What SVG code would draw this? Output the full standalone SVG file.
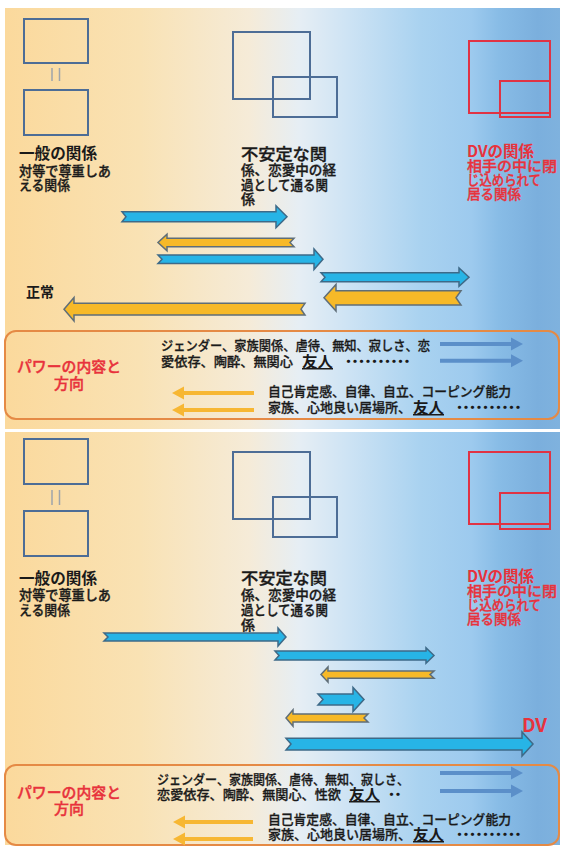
<svg xmlns="http://www.w3.org/2000/svg" width="562" height="849" viewBox="0 0 562 849">
<defs>
<linearGradient id="bg" gradientUnits="userSpaceOnUse" x1="5" y1="0" x2="560" y2="0">
<stop offset="0" stop-color="#fbd99c"/>
<stop offset="0.243" stop-color="#f9e2b4"/>
<stop offset="0.44" stop-color="#f5ebd8"/>
<stop offset="0.53" stop-color="#e6eef4"/>
<stop offset="0.62" stop-color="#cde3f4"/>
<stop offset="0.75" stop-color="#a9d2f0"/>
<stop offset="0.84" stop-color="#9dcaee"/>
<stop offset="0.89" stop-color="#88bce6"/>
<stop offset="0.96" stop-color="#7bafdd"/>
<stop offset="1" stop-color="#7fb2de"/>
</linearGradient>
<style>
text{font-family:"Noto Sans CJK JP","Noto Sans CJK SC",sans-serif;fill:#1a1a1a;font-weight:500}
.h{font-size:15.5px;font-weight:bold}
.b{font-size:14px;stroke:#1a1a1a;stroke-width:0.35}
.s{font-size:13.5px;stroke:#1a1a1a;stroke-width:0.35}
.p{font-size:13px;stroke:#1a1a1a;stroke-width:0.3}
.rh{font-size:15.5px;font-weight:bold;fill:#e8323c}
.rb{font-size:14px;fill:#e8323c;stroke:#e8323c;stroke-width:0.35}
.pw{font-size:15px;fill:#e8323c;stroke:#e8323c;stroke-width:0.4}
.fr{font-size:15px;font-weight:bold;text-decoration:underline}
.dot{font-size:13px;font-weight:bold;letter-spacing:-6.5px}
.box{fill:none;stroke:#4d6d96;stroke-width:2}
.rbox{fill:none;stroke:#e03344;stroke-width:2}
.eq{stroke:#9ea4ab;stroke-width:1.5}
.pbox{fill:none;stroke:#e58a45;stroke-width:2}
.ba{fill:#27b4e6;stroke:#3e6a88;stroke-width:1.5;stroke-linejoin:miter}
.oa{fill:#f7b928;stroke:#5f6e78;stroke-width:1.5;stroke-linejoin:miter}
.bl{fill:#5b8fc9}
.ol{fill:#f7b733}
</style>
</defs>

<rect x="5" y="8" width="555" height="421" fill="url(#bg)"/>
<rect x="5" y="432" width="555" height="413" fill="url(#bg)"/>

<!-- TOP PANEL -->
<g id="top-normal">
<rect class="box" x="24" y="19" width="64" height="44"/>
<line class="eq" x1="52" y1="68" x2="52" y2="81"/>
<line class="eq" x1="59.5" y1="68" x2="59.5" y2="81"/>
<rect class="box" x="24" y="90" width="64" height="45"/>
<text class="h" x="19" y="159" textLength="78" lengthAdjust="spacingAndGlyphs">一般の関係</text>
<text class="s" x="19" y="176" textLength="92" lengthAdjust="spacingAndGlyphs">対等で尊重しあ</text>
<text class="s" x="19" y="190" textLength="51" lengthAdjust="spacingAndGlyphs">える関係</text>
</g>
<g id="top-unstable">
<rect class="box" x="233" y="32" width="77" height="67"/>
<rect class="box" x="273" y="77" width="64" height="40"/>
<text class="b" x="241" y="160" textLength="86" lengthAdjust="spacingAndGlyphs" style="font-size:16px">不安定な関</text>
<text class="b" x="241" y="175" textLength="95" lengthAdjust="spacingAndGlyphs">係、恋愛中の経</text>
<text class="b" x="241" y="190" textLength="87" lengthAdjust="spacingAndGlyphs">過として通る関</text>
<text class="b" x="241" y="204">係</text>
</g>
<g id="top-dv">
<rect class="rbox" x="469" y="41" width="81" height="72"/>
<rect class="rbox" x="500" y="81" width="50" height="36"/>
<text class="rh" x="467" y="157" textLength="67" lengthAdjust="spacingAndGlyphs">DVの関係</text>
<text class="rb" x="467" y="171" textLength="90" lengthAdjust="spacingAndGlyphs">相手の中に閉</text>
<text class="rb" x="467" y="185" textLength="74" lengthAdjust="spacingAndGlyphs">じ込められて</text>
<text class="rb" x="467" y="199" textLength="54" lengthAdjust="spacingAndGlyphs">居る関係</text>
</g>
<g id="top-normal-label">
<text class="h" x="26" y="297" style="font-size:14px">正常</text>
</g>

<g id="top-arrows">
<polygon class="ba" points="122,211.7 276,211.7 276,205.7 287,216.7 276,227.7 276,221.7 122,221.7 126,216.7"/>
<polygon class="oa" points="294,238.3 167,238.3 167,234.3 158,242.5 167,250.7 167,246.7 294,246.7 290,242.5"/>
<polygon class="ba" points="158,255 314,255 314,249 323,259.2 314,269.4 314,263.4 158,263.4 162,259.2"/>
<polygon class="ba" points="321,272.7 459,272.7 459,268 469,277.2 459,286.4 459,281.7 321,281.7 325,277.2"/>
<polygon class="oa" points="461,290.7 336,290.7 336,284.5 324,297.8 336,311 336,305 461,305 456,297.8"/>
<polygon class="oa" points="305,303.3 74,303.3 74,297.5 64,309.2 74,321 74,315 305,315 301,309.2"/>
</g>

<g id="top-power">
<rect class="pbox" x="5" y="331" width="554" height="88" rx="11" ry="11"/>
<text class="pw" x="17" y="372" textLength="104" lengthAdjust="spacingAndGlyphs">パワーの内容と</text>
<text class="pw" x="69" y="389" text-anchor="middle">方向</text>
<text class="p" x="161" y="350" textLength="269" lengthAdjust="spacingAndGlyphs">ジェンダー、家族関係、虐待、無知、寂しさ、恋</text>
<text class="p" x="161" y="366" textLength="132" lengthAdjust="spacingAndGlyphs">愛依存、陶酔、無関心</text>
<text class="fr" x="302" y="367" textLength="31" lengthAdjust="spacingAndGlyphs">友人</text>
<text class="dot" x="342" y="366">・・・・・・・・・・</text>
<text class="p" x="268" y="396" textLength="243" lengthAdjust="spacingAndGlyphs">自己肯定感、自律、自立、コーピング能力</text>
<text class="p" x="268" y="412" textLength="143" lengthAdjust="spacingAndGlyphs">家族、心地良い居場所、</text>
<text class="fr" x="413" y="413" textLength="31" lengthAdjust="spacingAndGlyphs">友人</text>
<text class="dot" x="453" y="412">・・・・・・・・・・</text>
</g>
<g id="top-power-arrows">
<polygon class="bl" points="440,342 511,342 511,337.5 523,344 511,350.5 511,346 440,346"/>
<polygon class="bl" points="440,358.7 511,358.7 511,354.2 523,360.7 511,367.2 511,362.7 440,362.7"/>
<polygon class="ol" points="254,391 184,391 184,386.5 172,393 184,399.5 184,395 254,395"/>
<polygon class="ol" points="254,408 184,408 184,403.5 172,410 184,416.5 184,412 254,412"/>
</g>

<!-- BOTTOM PANEL -->
<g id="bottom-normal">
<rect class="box" x="24" y="439" width="64" height="45"/>
<line class="eq" x1="52" y1="490" x2="52" y2="505"/>
<line class="eq" x1="59.5" y1="490" x2="59.5" y2="505"/>
<rect class="box" x="24" y="511" width="64" height="45"/>
<text class="h" x="19" y="584" textLength="78" lengthAdjust="spacingAndGlyphs">一般の関係</text>
<text class="s" x="19" y="600" textLength="92" lengthAdjust="spacingAndGlyphs">対等で尊重しあ</text>
<text class="s" x="19" y="615" textLength="51" lengthAdjust="spacingAndGlyphs">える関係</text>
</g>
<g id="bottom-unstable">
<rect class="box" x="233" y="452" width="77" height="67"/>
<rect class="box" x="273" y="497" width="64" height="40"/>
<text class="b" x="241" y="584" textLength="86" lengthAdjust="spacingAndGlyphs" style="font-size:16px">不安定な関</text>
<text class="b" x="241" y="600" textLength="95" lengthAdjust="spacingAndGlyphs">係、恋愛中の経</text>
<text class="b" x="241" y="615" textLength="87" lengthAdjust="spacingAndGlyphs">過として通る関</text>
<text class="b" x="241" y="630">係</text>
</g>
<g id="bottom-dv">
<rect class="rbox" x="469" y="452" width="81" height="72"/>
<rect class="rbox" x="500" y="493" width="50" height="36"/>
<text class="rh" x="467" y="582" textLength="67" lengthAdjust="spacingAndGlyphs">DVの関係</text>
<text class="rb" x="467" y="596" textLength="90" lengthAdjust="spacingAndGlyphs">相手の中に閉</text>
<text class="rb" x="467" y="610" textLength="74" lengthAdjust="spacingAndGlyphs">じ込められて</text>
<text class="rb" x="467" y="624" textLength="54" lengthAdjust="spacingAndGlyphs">居る関係</text>
</g>
<g id="bottom-dv-label">
<text x="522" y="732" style="font-size:19px;font-weight:bold;fill:#e8323c">DV</text>
</g>

<g id="bottom-arrows">
<polygon class="ba" points="104,633 278,633 278,628 286,637 278,646 278,641 104,641 108,637"/>
<polygon class="ba" points="275,651 426,651 426,647.7 434,655.5 426,663.3 426,660 275,660 279,655.5"/>
<polygon class="oa" points="434,671 328,671 328,667 321,674.6 328,682.2 328,678.3 434,678.3 430,674.6"/>
<polygon class="ba" points="318,694 353,694 353,687.5 364,699.5 353,711.5 353,705 318,705 323,699.5"/>
<polygon class="oa" points="368,714 293,714 293,709.7 286,718 293,726.3 293,722 368,722 364,718"/>
<polygon class="ba" points="286,738.3 522,738.3 522,732 533,744 522,756 522,750 286,750 291,744"/>
</g>

<g id="bottom-power">
<rect class="pbox" x="5" y="765" width="554" height="80" rx="11" ry="11"/>
<text class="pw" x="17" y="798" textLength="104" lengthAdjust="spacingAndGlyphs">パワーの内容と</text>
<text class="pw" x="69" y="814" text-anchor="middle">方向</text>
<text class="p" x="157" y="784" textLength="252" lengthAdjust="spacingAndGlyphs">ジェンダー、家族関係、虐待、無知、寂しさ、</text>
<text class="p" x="157" y="799" textLength="184" lengthAdjust="spacingAndGlyphs">恋愛依存、陶酔、無関心、性欲</text>
<text class="fr" x="349" y="800" textLength="31" lengthAdjust="spacingAndGlyphs">友人</text>
<text class="dot" x="385" y="799">・・</text>
<text class="p" x="268" y="824" textLength="243" lengthAdjust="spacingAndGlyphs">自己肯定感、自律、自立、コーピング能力</text>
<text class="p" x="268" y="839" textLength="143" lengthAdjust="spacingAndGlyphs">家族、心地良い居場所、</text>
<text class="fr" x="413" y="840" textLength="31" lengthAdjust="spacingAndGlyphs">友人</text>
<text class="dot" x="453" y="839">・・・・・・・・・・</text>
</g>
<g id="bottom-power-arrows">
<polygon class="bl" points="440,771 511,771 511,766.5 523,773 511,779.5 511,775 440,775"/>
<polygon class="bl" points="440,789 511,789 511,784.5 523,791 511,797.5 511,793 440,793"/>
<polygon class="ol" points="253,820 185,820 185,815.5 173,822 185,828.5 185,824 253,824"/>
<polygon class="ol" points="253,837 185,837 185,832.5 173,839 185,845.5 185,841 253,841"/>
</g>
</svg>
